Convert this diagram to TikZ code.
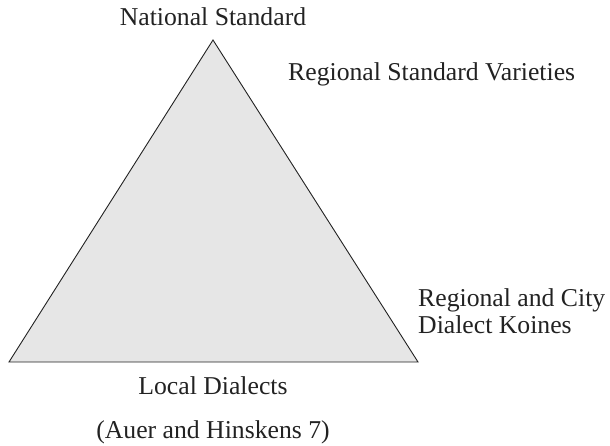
\documentclass[tikz,border=0pt]{standalone}
\usepackage{fontspec}
\setmainfont{Liberation Serif}
\definecolor{tri}{HTML}{E6E6E6}
\definecolor{ink}{HTML}{222222}
\begin{document}
\begin{tikzpicture}[x=1pt,y=-1pt,
  lbl/.style={inner sep=0pt,text=ink,font=\fontsize{25.7}{27}\selectfont},
  edge/.style={draw=ink,line width=0.9pt,line join=miter}]
\useasboundingbox (0,0) rectangle (610,446);
\coordinate (top) at (213,40);
\coordinate (bl) at (9,362);
\coordinate (br) at (418,362);
\filldraw[fill=tri,edge] (top) -- (br) -- (bl) -- cycle;
\node[lbl,anchor=base] (nat) at (213,26) {National Standard};
\node[lbl,anchor=base west] (reg) at (288,81) {Regional Standard Varieties};
\node[lbl,anchor=base west] (city1) at (418,306.5) {Regional and City};
\node[lbl,anchor=base west] (city2) at (418,333) {Dialect Koines};
\node[lbl,anchor=base] (loc) at (213,394) {Local Dialects};
\node[lbl,anchor=base] (src) at (213,438) {(Auer and Hinskens 7)};
\end{tikzpicture}
\end{document}
